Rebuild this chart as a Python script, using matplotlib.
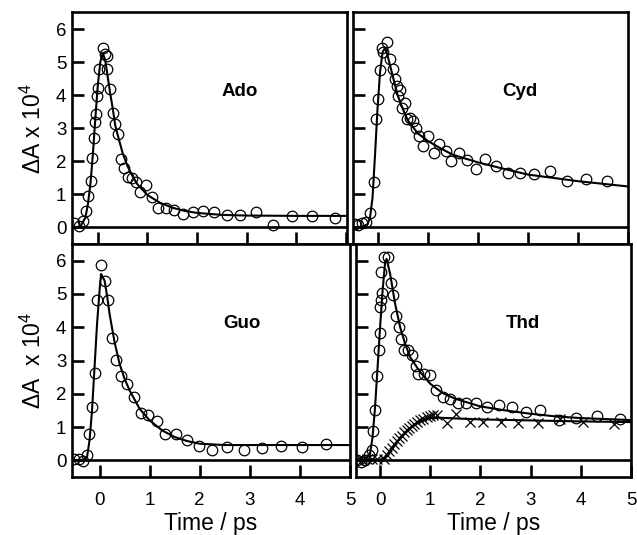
import matplotlib
matplotlib.use("Agg")
import matplotlib.pyplot as plt

plt.rcParams['font.family'] = ['Liberation Sans', 'DejaVu Sans']
plt.rcParams['mathtext.fontset'] = 'custom'
plt.rcParams['mathtext.rm'] = 'Liberation Sans'
plt.rcParams['mathtext.it'] = 'Liberation Sans:italic'
plt.rcParams['mathtext.bf'] = 'Liberation Sans:bold'

# ---------------- data ----------------
ado_t = [-0.48, -0.38, -0.30, -0.24, -0.19, -0.14, -0.11, -0.07, -0.05, -0.03, -0.02, 0.00,
         0.03, 0.10, 0.15, 0.18, 0.19, 0.25, 0.30, 0.34, 0.40, 0.46, 0.53, 0.60, 0.69, 0.77,
         0.85, 0.97, 1.09, 1.22, 1.37, 1.53, 1.71, 1.91, 2.12, 2.35, 2.60, 2.87, 3.19, 3.53,
         3.91, 4.31, 4.78]
ado_a = [0.12, 0.05, 0.20, 0.50, 0.94, 1.41, 2.09, 2.71, 3.20, 3.42, 3.98, 4.23,
         4.78, 5.44, 5.24, 5.17, 4.78, 4.18, 3.45, 3.14, 2.82, 2.08, 1.81, 1.54, 1.51, 1.38,
         1.08, 1.29, 0.93, 0.60, 0.60, 0.53, 0.40, 0.48, 0.50, 0.48, 0.38, 0.38, 0.47, 0.07,
         0.35, 0.35, 0.30]
ado_fit_t = [-0.52, -0.35, -0.25, -0.20, -0.15, -0.10, -0.05, 0.00, 0.05, 0.10, 0.15, 0.20,
             0.25, 0.30, 0.35, 0.40, 0.50, 0.60, 0.70, 0.80, 1.00, 1.25, 1.50, 1.75, 2.00,
             2.50, 3.00, 4.00, 5.00]
ado_fit_a = [0.00, 0.03, 0.30, 0.70, 1.30, 2.20, 3.30, 4.30, 5.00, 5.28, 5.05, 4.55,
             4.05, 3.60, 3.10, 2.80, 2.25, 1.85, 1.55, 1.30, 0.98, 0.75, 0.60, 0.50, 0.44,
             0.38, 0.36, 0.35, 0.35]

cyd_t = [-0.46, -0.39, -0.32, -0.24, -0.15, -0.07, -0.03, 0.00, 0.05, 0.08, 0.11, 0.19,
         0.25, 0.30, 0.34, 0.38, 0.40, 0.44, 0.48, 0.55, 0.58, 0.65, 0.70, 0.77, 0.82, 0.90,
         1.00, 1.12, 1.22, 1.36, 1.47, 1.62, 1.78, 1.96, 2.15, 2.36, 2.60, 2.85, 3.13, 3.44,
         3.79, 4.16, 4.58]
cyd_a = [0.10, 0.08, 0.13, 0.18, 0.45, 1.38, 3.27, 3.87, 4.77, 5.43, 5.30, 5.61,
         5.10, 4.79, 4.49, 4.29, 3.97, 4.17, 3.62, 3.75, 3.27, 3.32, 3.22, 3.02, 2.76, 2.46,
         2.76, 2.26, 2.51, 2.31, 2.01, 2.26, 2.03, 1.76, 2.06, 1.86, 1.64, 1.66, 1.61, 1.71,
         1.41, 1.48, 1.41]
cyd_fit_t = [-0.52, -0.30, -0.20, -0.15, -0.10, -0.05, 0.00, 0.05, 0.10, 0.15, 0.20, 0.30,
             0.40, 0.50, 0.60, 0.80, 1.00, 1.25, 1.50, 2.00, 2.50, 3.00, 3.50, 4.00, 4.50, 5.00]
cyd_fit_a = [0.00, 0.02, 0.10, 0.30, 0.90, 2.20, 3.60, 4.70, 5.30, 5.43, 5.20, 4.60,
             4.00, 3.60, 3.25, 2.85, 2.62, 2.40, 2.20, 1.97, 1.78, 1.60, 1.50, 1.40, 1.32, 1.24]

guo_t = [-0.52, -0.42, -0.33, -0.25, -0.22, -0.15, -0.10, -0.05, 0.03, 0.11, 0.17, 0.25,
         0.33, 0.43, 0.54, 0.68, 0.82, 0.97, 1.14, 1.30, 1.52, 1.75, 1.99, 2.24, 2.54, 2.88,
         3.24, 3.63, 4.05, 4.52]
guo_a = [0.05, 0.05, -0.02, 0.15, 0.78, 1.60, 2.61, 4.81, 5.87, 5.38, 4.81, 3.69,
         3.01, 2.53, 2.28, 1.91, 1.43, 1.37, 1.17, 0.80, 0.80, 0.62, 0.42, 0.32, 0.40, 0.32,
         0.38, 0.43, 0.40, 0.48]
guo_fit_t = [-0.55, -0.30, -0.25, -0.20, -0.15, -0.10, -0.05, 0.00, 0.03, 0.10, 0.15, 0.20,
             0.30, 0.40, 0.50, 0.60, 0.80, 1.00, 1.25, 1.50, 1.75, 2.00, 2.50, 3.00, 5.00]
guo_fit_a = [0.00, 0.02, 0.10, 0.60, 1.50, 2.80, 4.10, 5.10, 5.60, 5.40, 4.95, 4.40,
             3.55, 2.90, 2.45, 2.10, 1.55, 1.20, 0.90, 0.70, 0.58, 0.50, 0.46, 0.46, 0.46]

thd_t = [-0.46, -0.38, -0.30, -0.23, -0.17, -0.15, -0.11, -0.07, -0.03, -0.01, 0.00, 0.01,
         0.03, 0.02, 0.07, 0.15, 0.21, 0.26, 0.31, 0.38, 0.41, 0.48, 0.56, 0.63, 0.72, 0.76,
         0.87, 0.99, 1.11, 1.25, 1.39, 1.56, 1.72, 1.92, 2.13, 2.36, 2.62, 2.90, 3.19, 3.56,
         3.91, 4.32, 4.78]
thd_a = [0.00, -0.05, 0.02, 0.15, 0.30, 0.88, 1.52, 2.53, 3.33, 3.83, 4.61, 4.81,
         5.02, 5.65, 6.12, 6.12, 5.32, 4.98, 4.33, 4.01, 3.66, 3.31, 3.31, 3.16, 2.83, 2.58,
         2.58, 2.56, 2.11, 1.91, 1.83, 1.73, 1.71, 1.73, 1.60, 1.67, 1.60, 1.45, 1.50, 1.20,
         1.28, 1.32, 1.25]
thd_fit_t = [-0.50, -0.30, -0.20, -0.15, -0.10, -0.05, 0.00, 0.05, 0.10, 0.13, 0.20, 0.30,
             0.40, 0.50, 0.60, 0.80, 1.00, 1.25, 1.50, 2.00, 2.50, 3.00, 3.50, 4.00, 4.50, 5.00]
thd_fit_a = [0.00, 0.02, 0.20, 0.70, 1.60, 2.80, 4.00, 5.10, 5.95, 6.05, 5.60, 4.70,
             4.00, 3.50, 3.10, 2.65, 2.30, 2.02, 1.85, 1.62, 1.50, 1.40, 1.32, 1.27, 1.24, 1.21]

thd2_t = [-0.44, -0.36, -0.26, -0.17, -0.07, 0.07, 0.13, 0.18, 0.23, 0.28, 0.33, 0.38,
          0.43, 0.48, 0.53, 0.58, 0.63, 0.68, 0.74, 0.80, 0.86, 0.93, 0.99, 1.06, 1.13,
          1.34, 1.52, 1.80, 2.05, 2.40, 2.75, 3.15, 3.58, 4.04, 4.67]
thd2_a = [0.00, 0.00, 0.05, 0.05, 0.05, 0.05, 0.15, 0.28, 0.38, 0.48, 0.58, 0.66,
          0.74, 0.84, 0.90, 0.98, 1.04, 1.10, 1.15, 1.20, 1.25, 1.30, 1.33, 1.35, 1.36,
          1.12, 1.38, 1.15, 1.15, 1.15, 1.12, 1.12, 1.25, 1.15, 1.10]
thd2_fit_t = [-0.50, 0.00, 0.10, 0.20, 0.30, 0.40, 0.50, 0.60, 0.70, 0.80, 0.90, 1.00,
              1.20, 1.50, 2.00, 3.00, 4.00, 5.00]
thd2_fit_a = [0.00, 0.02, 0.10, 0.28, 0.48, 0.66, 0.82, 0.96, 1.08, 1.17, 1.23, 1.27,
              1.28, 1.26, 1.23, 1.20, 1.17, 1.15]

panel_names = ["Ado", "Cyd", "Guo", "Thd"]
x_ticks = [0, 1, 2, 3, 4, 5]
y_ticks = [0, 1, 2, 3, 4, 5, 6]
x_label = "Time / ps"
y_label_top = "ΔA x 10$^{4}$"
y_label_bottom = "ΔA  x 10$^{4}$"

# ---------------- figure ----------------
W, H = 637, 535
fig = plt.figure(figsize=(W / 100, H / 100), dpi=100)


def px_axes(x0, x1, y0, y1):
    return fig.add_axes([x0 / W, 1 - y1 / H, (x1 - x0) / W, (y1 - y0) / H])


boxes = [(72, 347, 12.5, 244), (353, 628, 12.5, 244),
         (72, 350, 244, 477), (356, 631, 244, 477)]
xlims = [(-0.52, 5.02), (-0.49, 5.0), (-0.55, 5.0), (-0.48, 4.98)]

circle_sets = [(ado_t, ado_a), (cyd_t, cyd_a), (guo_t, guo_a), (thd_t, thd_a)]
fit_sets = [(ado_fit_t, ado_fit_a), (cyd_fit_t, cyd_fit_a),
            (guo_fit_t, guo_fit_a), (thd_fit_t, thd_fit_a)]

for i, (box, name) in enumerate(zip(boxes, panel_names)):
    ax = px_axes(*box)
    ax.set_xlim(*xlims[i])
    ax.set_ylim(-0.5, 6.5)
    ax.axhline(0, color='black', lw=1.9, zorder=1)
    ft, fa = fit_sets[i]
    ax.plot(ft, fa, color='black', lw=1.5, zorder=3)
    ct, ca = circle_sets[i]
    ax.plot(ct, ca, linestyle='none', marker='o', ms=7.6, mfc='none',
            mec='black', mew=0.9, zorder=4)
    if name == "Thd":
        ax.plot(thd2_fit_t, thd2_fit_a, color='black', lw=1.5, zorder=3)
        ax.plot(thd2_t, thd2_a, linestyle='none', marker='x', ms=6.5,
                mec='black', mew=0.9, zorder=4)
    ax.text(2.85, 4.1, name, fontsize=13.5, fontweight='bold',
            ha='center', va='center')

    for s in ax.spines.values():
        s.set_linewidth(1.9)
    ax.set_xticks(x_ticks)
    ax.set_yticks(y_ticks)
    ax.tick_params(axis='both', direction='in', length=8.5, width=1.9,
                   labelsize=13.5, top=False, right=False)
    ax.tick_params(axis='x', pad=11)
    ax.tick_params(axis='y', pad=4)
    if i < 2:
        ax.set_xticklabels([])
    else:
        ax.set_xlabel(x_label, fontsize=16.5, labelpad=2)
    if i % 2 == 1:
        ax.set_yticklabels([])
    else:
        ax.set_ylabel(y_label_top if i == 0 else y_label_bottom,
                      fontsize=16.5, labelpad=7)

fig.savefig("out.png", dpi=100)
